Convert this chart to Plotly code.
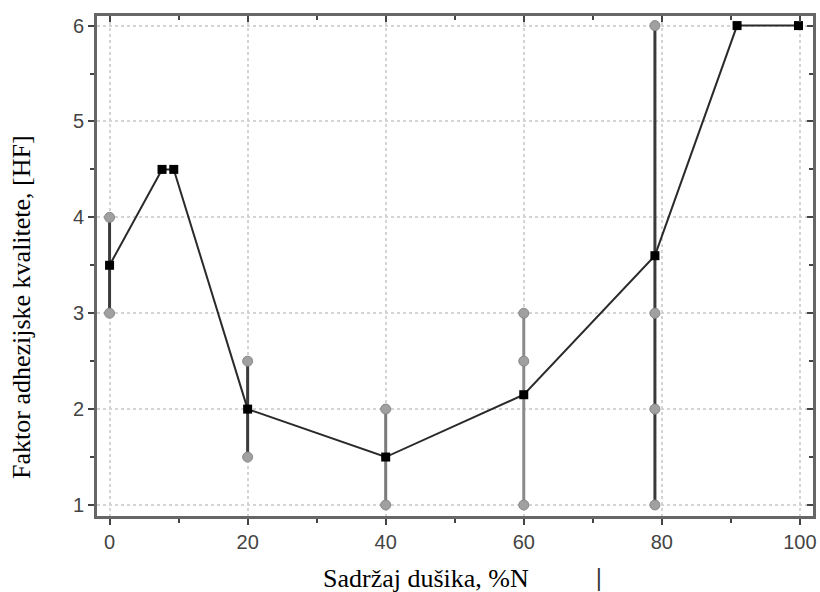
import plotly.graph_objects as go

# main series
x_main = [0, 7.6, 9.3, 20, 40, 60, 79, 90.9, 99.8]
y_main = [3.5, 4.5, 4.5, 2.0, 1.5, 2.15, 3.6, 6.0, 6.0]

# individual measurements (gray markers) and range bars
meas_x = [0, 0, 20, 20, 40, 40, 60, 60, 60, 79, 79, 79, 79]
meas_y = [3, 4, 1.5, 2.5, 1, 2, 1, 2.5, 3, 1, 2, 3, 6]
bar_x = [0, 20, 40, 60, 79]
bar_low = [3, 1.5, 1, 1, 1]
bar_high = [4, 2.5, 2, 3, 6]
bar_colors = ["#3a3a3a", "#3a3a3a", "#7a7a7a", "#8a8a8a", "#3a3a3a"]

x_ticks = [0, 20, 40, 60, 80, 100]
y_ticks = [1, 2, 3, 4, 5, 6]

fig = go.Figure()

for bx, lo, hi, c in zip(bar_x, bar_low, bar_high, bar_colors):
    fig.add_trace(go.Scatter(x=[bx, bx], y=[lo, hi], mode="lines",
                             line=dict(color=c, width=3), showlegend=False,
                             hoverinfo="skip"))

fig.add_trace(go.Scatter(x=meas_x, y=meas_y, mode="markers",
                         marker=dict(symbol="circle", size=10, color="#a0a0a0",
                                     line=dict(color="#888888", width=1)),
                         showlegend=False))

fig.add_trace(go.Scatter(x=x_main, y=y_main, mode="lines+markers",
                         line=dict(color="#2a2a2a", width=2),
                         marker=dict(symbol="square", size=9, color="#000000"),
                         showlegend=False))

axis_common = dict(showline=True, linecolor="#666666", linewidth=3,
                   tickcolor="#444444", tickwidth=2, automargin=False,
                   tickfont=dict(family="Arial, Liberation Sans", size=20, color="#444444"),
                   zeroline=False)

fig.update_layout(
    width=820, height=592,
    margin=dict(l=97, r=7, t=16, b=76),
    plot_bgcolor="white", paper_bgcolor="white",
    xaxis=dict(range=[-1.82, 101.9], tickvals=x_ticks, ticks="outside", ticklen=6,
               showgrid=True, gridcolor="#d4d4d4", gridwidth=2, griddash="dot",
               minor=dict(tickvals=[10, 30, 50, 70, 90], ticks="outside", ticklen=4,
                          tickcolor="#444444", tickwidth=2, showgrid=False),
               **axis_common),
    yaxis=dict(range=[0.885, 6.1], tickvals=y_ticks, ticks="outside", ticklen=6,
               showgrid=True, gridcolor="#d4d4d4", gridwidth=2, griddash="dot",
               minor=dict(tickvals=[1.5, 2.5, 3.5, 4.5, 5.5], ticks="outside", ticklen=4,
                          tickcolor="#444444", tickwidth=2, showgrid=False),
               **axis_common),
    xaxis2=dict(range=[-1.82, 101.9], overlaying="x", side="top", tickvals=x_ticks,
                ticks="inside", ticklen=6, showticklabels=False, showgrid=False,
                minor=dict(tickvals=[10, 30, 50, 70, 90], ticks="inside", ticklen=4,
                           tickcolor="#444444", tickwidth=2),
                **axis_common),
    yaxis2=dict(range=[0.885, 6.1], overlaying="y", side="right", tickvals=y_ticks,
                ticks="inside", ticklen=6, showticklabels=False, showgrid=False,
                minor=dict(tickvals=[1.5, 2.5, 3.5, 4.5, 5.5], ticks="inside", ticklen=4,
                           tickcolor="#444444", tickwidth=2),
                **axis_common),
)

# dummy trace to activate secondary axes
fig.add_trace(go.Scatter(x=[None], y=[None], xaxis="x2", yaxis="y2", showlegend=False))

title_font = dict(family="Liberation Serif, Times New Roman, serif", size=26, color="#000000")
fig.add_annotation(text="Sadržaj dušika, %N", xref="paper", yref="paper",
                   x=(426 - 97) / 716, y=-(578 - 516) / 500, showarrow=False,
                   xanchor="center", yanchor="middle", font=title_font)
fig.add_annotation(text="<b>|</b>", xref="paper", yref="paper",
                   x=(599 - 97) / 716, y=-(577 - 516) / 500, showarrow=False,
                   xanchor="center", yanchor="middle",
                   font=dict(family="Liberation Serif, Times New Roman, serif", size=26,
                             color="#333333"))
fig.add_annotation(text="Faktor adhezijske kvalitete, [HF]", xref="paper", yref="paper",
                   x=(21 - 97) / 716, y=(516 - 307) / 500, showarrow=False,
                   textangle=-90, xanchor="center", yanchor="middle", font=title_font)

fig.write_html("out.html", config={"displayModeBar": False},
               post_script="document.body.style.margin='0px';"
                           "document.body.style.overflow='hidden';")
